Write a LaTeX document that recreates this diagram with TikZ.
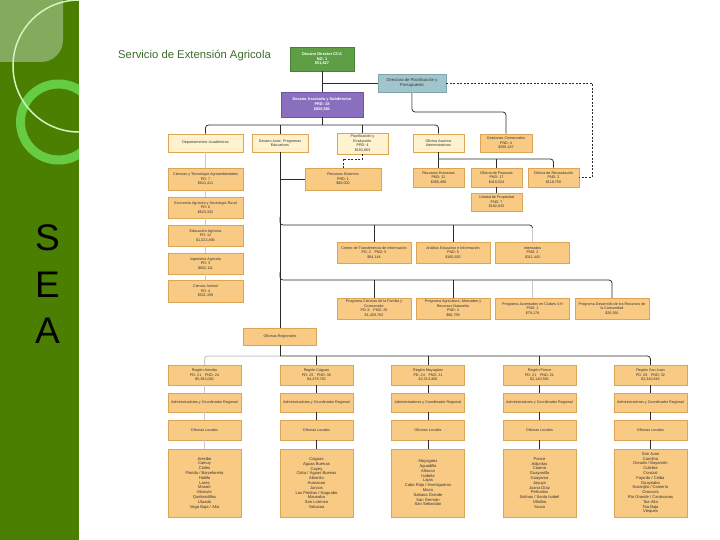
\documentclass[tikz,border=0pt]{standalone}
\usepackage{fontspec}
\setmainfont{Liberation Sans}
\usetikzlibrary{calc}
\definecolor{panel}{HTML}{4B7F02}
\definecolor{panellt}{HTML}{84AA5E}
\definecolor{ringc}{HTML}{66CC44}
\definecolor{thinc}{HTML}{D2F4BE}
\definecolor{ofill}{HTML}{F9CA84}
\definecolor{oline}{HTML}{DCA455}
\definecolor{yfill}{HTML}{FFF2CF}
\definecolor{gfill}{HTML}{5E9E45}
\definecolor{gline2}{HTML}{4A8235}
\definecolor{pfill}{HTML}{8A6FBE}
\definecolor{pline}{HTML}{6E559F}
\definecolor{bfill}{HTML}{A2C4CC}
\definecolor{bline}{HTML}{7FA6AE}
\definecolor{titlec}{HTML}{3E6B2E}
\definecolor{dline}{HTML}{2B2B2B}
\definecolor{gline}{HTML}{C9C9C9}
\begin{document}
\begin{tikzpicture}[x=1pt,y=-1pt,
  box/.style={draw=oline, line width=0.5pt, fill=ofill, inner sep=0pt, align=center,
    font=\fontsize{3.7}{4.5}\selectfont, text=black!80},
  ybox/.style={box, fill=yfill},
  lbox/.style={box, font=\fontsize{4.1}{4.8}\selectfont},
  sz/.style 2 args={minimum width=#1, minimum height=#2},
  dk/.style={draw=dline, line width=0.75pt},
  gy/.style={draw=gline, line width=1pt},
  dsh/.style={draw=dline, line width=0.6pt, dash pattern=on 2pt off 1.5pt},
  sea/.style={anchor=base, font=\fontsize{37}{40}\selectfont, text=black, inner sep=0pt}
]
\useasboundingbox (0,0) rectangle (720,540);
\fill[white] (0,0) rectangle (720,540);
% left panel
\fill[panel] (0,0) rectangle (79,540);
\begin{scope}
  \clip (0,0) rectangle (79,540);
  \fill[panellt, rounded corners=22pt] (-20,-20) rectangle (63,62);
  \draw[ringc, line width=9pt] (58.5,122) circle (38);
  \draw[thinc, line width=1.5pt] (79,66) circle (66);
\end{scope}
\node[sea] (s1) at (47.5,250) {S};
\node[sea] (s2) at (47.5,297) {E};
\node[sea] (s3) at (47.5,343) {A};
% title
\node[anchor=base west, inner sep=0pt, text=titlec, font=\fontsize{11.3}{13}\selectfont] (title) at (118,58.5) {Servicio de Extensión Agricola};

% top
\node[box, sz={64}{24}, fill=gfill, draw=gline2, text=white, font=\fontsize{3.9}{4.8}\selectfont\bfseries] (dcca) at (322,59) {Decano Director CCA\\NO: 1\\\$51,827};
\node[box, sz={68}{18}, fill=bfill, draw=bline, font=\fontsize{4.2}{5}\selectfont] (dir) at (412,83) {Directora de Planificación y\\Presupuesto};
\node[box, sz={82}{25}, fill=pfill, draw=pline, text=white, font=\fontsize{3.9}{4.8}\selectfont\bfseries] (dasoc) at (322,104.5) {Decano Asociado y Subdirector\\PRD: 18\\\$820,581};

% row 2
\node[ybox, sz={75}{18}] (deptos) at (205.5,143) {Departamentos Académicos};
\node[ybox, sz={56}{18}] (dasist) at (280,143) {Decano Asist. Programas\\Educativos};
\node[ybox, sz={51}{21}] (plan) at (362.5,143.5) {Planificación y\\Evaluación\\PRD: 4\\\$183,063};
\node[ybox, sz={51}{18}] (asuntos) at (438.5,143) {Oficina Asuntos\\Administrativos};
\node[box, sz={52}{18}] (gest) at (506,143) {Gestiones Comerciales\\PND: 4\\\$268,187};

% departments
\node[box, sz={75}{22}] (cta) at (205.5,179) {Ciencias y Tecnología Agroambientales\\PD: 7\\\$621,411};
\node[box, sz={75}{21}] (eco) at (205.5,207.5) {Economía Agrícola y Sociología Rural\\PD: 6\\\$523,332};
\node[box, sz={75}{21}] (edu) at (205.5,235.5) {Educación Agrícola\\PD: 12\\\$1,022,496};
\node[box, sz={75}{21}] (ing) at (205.5,263.5) {Ingeniería Agrícola\\PD: 3\\\$602,111};
\node[box, sz={75}{22}] (cani) at (205.5,291) {Ciencia Animal\\PD: 4\\\$521,339};

% recursos externos
\node[box, sz={76}{22}] (recext) at (343,179) {Recursos Externos\\PRD: 1\\\$60,000};

% administrative offices
\node[box, sz={51}{19}] (rrhh) at (438.5,177.5) {Recursos Humanos\\PND: 12\\\$365,458};
\node[box, sz={51}{19}] (fin) at (496.5,177.5) {Oficina de Finanzas\\PND: 17\\\$419,524};
\node[box, sz={51}{19}] (recaud) at (553.5,177.5) {Oficina de Recaudación\\PND: 2\\\$118,750};
\node[box, sz={51}{18}] (prop) at (496.5,202) {Unidad de Propiedad\\PND: 7\\\$182,643};

% row 3
\node[box, sz={74}{21}] (ctrans) at (374,252.5) {Centro de Transferencia de Información\\PD: 2\quad PND: 5\\\$84,144};
\node[box, sz={74}{21}] (anal) at (453,252.5) {Análisis Educativo e Información\\PND: 5\\\$160,692};
\node[box, sz={74}{21}] (intern) at (532.5,252.5) {Internados\\PND: 2\\\$111,443};

% row 4
\node[box, sz={74}{21}] (pfam) at (374,308.5) {Programa Ciencias de la Familia y\\Consumidor\\PD: 8\quad PND: 25\\\$1,409,763};
\node[box, sz={74}{21}] (pagri) at (453,308.5) {Programa Agricultura, Mercadeo y\\Recursos Naturales\\PND: 4\\\$86,789};
\node[box, sz={74}{21}] (pjuv) at (532.5,308.5) {Programa Juventudes en Clubes 4-H\\PND: 1\\\$79,178};
\node[box, sz={74}{21}] (pdes) at (612,308.5) {Programa Desarrollo de los Recursos de\\la Comunidad\\\$26,991};

% oficinas regionales
\node[box, sz={73}{17}] (ofreg) at (280,336.5) {Oficinas Regionales};

% regions
\node[box, sz={73}{20}] (r1) at (204.5,375) {Región Arecibo\\PD: 21\quad PND: 24\\\$5,382,040};
\node[box, sz={73}{20}] (r2) at (316.5,375) {Región Caguas\\PD: 25\quad PND: 30\\\$4,478,730};
\node[box, sz={73}{20}] (r3) at (428,375) {Región Mayagüez\\PD: 24\quad PND: 21\\\$2,313,408};
\node[box, sz={73}{20}] (r4) at (539.5,375) {Región Ponce\\PD: 21\quad PND: 21\\\$2,140,580};
\node[box, sz={73}{20}] (r5) at (650.5,375) {Región San Juan\\PD: 28\quad PND: 32\\\$2,340,816};

\foreach \i/\x in {1/204.5,2/316.5,3/428,4/539.5,5/650.5}{
  \node[box, sz={73}{19}] (a\i) at (\x,402.5) {Administradores y Coordinador Regional};
  \node[box, sz={73}{20}] (l\i) at (\x,430) {Oficinas Locales};
}
\node[lbox, sz={73}{68}] (m1) at (204.5,483) {Arecibo\\Camuy\\Ciales\\Florida / Barceloneta\\Hatillo\\Lares\\Manatí\\Morovis\\Quebradillas\\Utuado\\Vega Baja / Alta};
\node[lbox, sz={73}{68}] (m2) at (316.5,483) {Caguas\\Aguas Buenas\\Cayey\\Cidra / Aguas Buenas\\Aibonito\\Humacao\\Juncos\\Las Piedras / Naguabo\\Maunabo\\San Lorenzo\\Yabucoa};
\node[lbox, sz={73}{68}] (m3) at (428,483) {Mayagüez\\Aguadilla\\Añasco\\Isabela\\Lajas\\Cabo Rojo / Hormigueros\\Moca\\Sabana Grande\\San Germán\\San Sebastián};
\node[lbox, sz={73}{68}] (m4) at (539.5,483) {Ponce\\Adjuntas\\Coamo\\Guayanilla\\Guayama\\Jayuya\\Juana Díaz\\Peñuelas\\Salinas / Santa Isabel\\Villalba\\Yauco};
\node[lbox, sz={73}{68}] (m5) at (650.5,483) {San Juan\\Carolina\\Dorado / Bayamón\\Culebra\\Corozal\\Fajardo / Ceiba\\Guaynabo\\Naranjito / Comerío\\Orocovis\\Río Grande / Canóvanas\\Toa Alta\\Toa Baja\\Vieques};

% ---------- connectors ----------
\coordinate (b0) at (0,112);
\coordinate (b1) at (0,125);
\coordinate (b2) at (0,159);
\coordinate (b3) at (0,225);
\coordinate (b4) at (0,280);
\coordinate (rb) at (0,356);
\coordinate (dc) at (592,83);

\draw[dk] (dcca.south) -- (dasoc.north);
\draw[dk] (dcca.south |- dir.west) -- (dir.west);
\draw[dsh] (dir.east) -- (dc) |- (recaud.east);
\draw[dk, rounded corners=3pt] (dir.south) |- (gest.north |- b0) -- (gest.north);
\draw[gy] (dir.south) -- ($(dir.south |- b0)+(0,-3)$);

% row 2 bar
\draw[dk] (dasoc.south) -- (dasoc.south |- b1);
\draw[dk, rounded corners=3pt] (deptos.north) |- (asuntos.north |- b1) -- (asuntos.north);
\draw[dk] (dasist.north) -- (dasist.north |- b1);
\draw[dk] (plan.north) -- (plan.north |- b1);

% departments column
\draw[gy] (deptos.south) -- (cta.north);
\draw[gy] (cta.south) -- (eco.north);
\draw[gy] (eco.south) -- (edu.north);
\draw[gy] (edu.south) -- (ing.north);
\draw[gy] (ing.south) -- (cani.north);

% planificacion dashed to recursos externos
\draw[dsh] (plan.south) |- (recext.north |- b2) -- (recext.north);

% administrative
\draw[dk] (asuntos.south) -- (rrhh.north);
\draw[dk, rounded corners=3pt] (asuntos.south |- b2) -| (recaud.north);
\draw[dk] (fin.north) -- (fin.north |- b2);
\draw[dk] (fin.south) -- (prop.north);

% decano asist. trunk
\draw[dk] (dasist.south) -- (ofreg.north);
\draw[dk] (dasist.south |- recext.west) -- (recext.west);
\draw[dk, rounded corners=3pt] ($(dasist.south |- b3)+(0,-8)$) |- (intern.north |- b3) -- (intern.north);
\draw[gy] ($(intern.north |- b3)+(0,3)$) -- (intern.north);
\draw[dk] (ctrans.north) -- (ctrans.north |- b3);
\draw[dk] (anal.north) -- (anal.north |- b3);
\draw[dk, rounded corners=3pt] ($(dasist.south |- b4)+(0,-8)$) |- (pdes.north |- b4) -- (pdes.north);
\draw[dk] (pfam.north) -- (pfam.north |- b4);
\draw[dk] (pagri.north) -- (pagri.north |- b4);
\draw[gy] ($(pjuv.north |- b4)+(0,1)$) -- (pjuv.north);

% regions
\draw[dk] (ofreg.south) -- (ofreg.south |- rb);
\draw[gy, rounded corners=3pt] (r1.north) |- (ofreg.south |- rb);
\draw[dk, rounded corners=3pt] (ofreg.south |- rb) -| (r5.north);
\draw[dk] (r2.north) -- (r2.north |- rb);
\draw[dk] (r3.north) -- (r3.north |- rb);
\draw[dk] (r4.north) -- (r4.north |- rb);
\draw[gy] (r1.south) -- (a1.north);
\draw[gy] (a1.south) -- (l1.north);
\draw[gy] (l1.south) -- (m1.north);
\foreach \i in {2,3,4,5}{
  \draw[dk] (r\i.south) -- (a\i.north);
  \draw[dk] (a\i.south) -- (l\i.north);
  \draw[dk] (l\i.south) -- (m\i.north);
}
\end{tikzpicture}
\end{document}
